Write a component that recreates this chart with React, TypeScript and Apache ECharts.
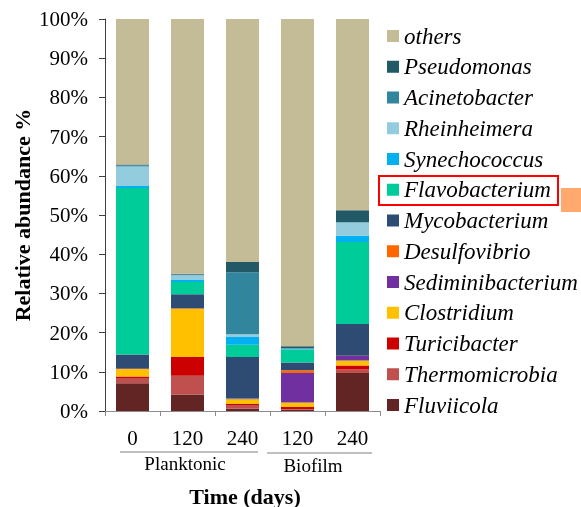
import React, { useEffect, useRef } from "react";
import * as echarts from "echarts";

const categories = ["0", "120", "240", "120", "240"];
const yTicks = ["0%", "10%", "20%", "30%", "40%", "50%", "60%", "70%", "80%", "90%", "100%"];

// stack order bottom -> top
const genera = [
  "Fluviicola",
  "Thermomicrobia",
  "Turicibacter",
  "Clostridium",
  "Sediminibacterium",
  "Desulfovibrio",
  "Mycobacterium",
  "Flavobacterium",
  "Synechococcus",
  "Rheinheimera",
  "Acinetobacter",
  "Pseudomonas",
  "others",
];
const colors = [
  "#632523",
  "#C0504D",
  "#CC0000",
  "#FFC000",
  "#7030A0",
  "#FF6600",
  "#2E4B73",
  "#00CC99",
  "#00B0F0",
  "#93CDDD",
  "#31859C",
  "#215967",
  "#C4BC96",
];

const fluviicola = [7.1, 4.2, 0.6, 0.3, 9.7];
const thermomicrobia = [1.3, 4.8, 0.9, 0.2, 0.9];
const turicibacter = [0.4, 4.8, 0.3, 0.5, 1.0];
const clostridium = [1.9, 12.2, 1.2, 1.2, 1.3];
const sediminibacterium = [0.2, 0.1, 0.1, 7.5, 1.1];
const desulfovibrio = [0.0, 0.1, 0.1, 0.7, 0.1];
const mycobacterium = [3.5, 3.6, 10.6, 2.0, 8.1];
const flavobacterium = [42.5, 3.1, 3.1, 3.3, 20.9];
const synechococcus = [0.5, 0.5, 2.0, 0.1, 1.6];
const rheinheimera = [5.0, 1.2, 0.7, 0.1, 3.4];
const acinetobacter = [0.3, 0.2, 15.8, 0.1, 0.1];
const pseudomonas = [0.2, 0.2, 2.6, 0.5, 3.0];
const others = [37.1, 65.0, 62.0, 83.5, 48.8];

const seriesValues = [
  fluviicola,
  thermomicrobia,
  turicibacter,
  clostridium,
  sediminibacterium,
  desulfovibrio,
  mycobacterium,
  flavobacterium,
  synechococcus,
  rheinheimera,
  acinetobacter,
  pseudomonas,
  others,
];

const SERIF = "Liberation Serif";

export default function App() {
  const ref = useRef<HTMLDivElement>(null);
  useEffect(() => {
    if (!ref.current) return;
    const chart = echarts.init(ref.current, null, { renderer: "svg" });
    chart.setOption({
      animation: false,
      grid: { left: 105, right: 201, top: 19, bottom: 96, containLabel: false },
      legend: {
        orient: "vertical",
        left: 387,
        top: 24.5,
        padding: 0,
        icon: "rect",
        itemWidth: 12,
        itemHeight: 12,
        itemGap: 7.75,
        data: genera.slice().reverse(),
        textStyle: {
          fontFamily: SERIF,
          fontStyle: "italic",
          fontSize: 23,
          lineHeight: 23,
          color: "#000",
        },
      },
      xAxis: {
        type: "category",
        data: categories,
        axisLine: { lineStyle: { color: "#8c8c8c", width: 1 } },
        axisTick: { show: true, length: 5, lineStyle: { color: "#8c8c8c" } },
        axisLabel: { fontFamily: SERIF, fontSize: 21, color: "#000", margin: 16 },
      },
      yAxis: {
        type: "value",
        min: 0,
        max: 100,
        interval: 10,
        splitLine: { show: false },
        axisLine: { show: true, lineStyle: { color: "#404040", width: 1 } },
        axisTick: { show: true, length: 6, lineStyle: { color: "#404040" } },
        axisLabel: {
          fontFamily: SERIF,
          fontSize: 21,
          color: "#000",
          margin: 17,
          formatter: (v: number) => yTicks[Math.round(v / 10)],
        },
      },
      series: genera.map((name, i) => ({
        name,
        type: "bar",
        stack: "total",
        barWidth: 33,
        data: seriesValues[i],
        itemStyle: { color: colors[i] },
      })),
      graphic: [
        {
          type: "text",
          x: 22,
          y: 215,
          rotation: Math.PI / 2,
          style: {
            text: "Relative abundance %",
            fontFamily: SERIF,
            fontWeight: "bold",
            fontSize: 22,
            fill: "#000",
            align: "center",
            verticalAlign: "middle",
          },
        },
        {
          type: "line",
          shape: { x1: 120, y1: 452, x2: 258, y2: 452 },
          style: { stroke: "#808080", lineWidth: 1 },
        },
        {
          type: "line",
          shape: { x1: 267, y1: 453, x2: 372, y2: 453 },
          style: { stroke: "#808080", lineWidth: 1 },
        },
        {
          type: "text",
          x: 185,
          y: 463,
          style: {
            text: "Planktonic",
            fontFamily: SERIF,
            fontSize: 19,
            fill: "#000",
            align: "center",
            verticalAlign: "middle",
          },
        },
        {
          type: "text",
          x: 313,
          y: 465,
          style: {
            text: "Biofilm",
            fontFamily: SERIF,
            fontSize: 19,
            fill: "#000",
            align: "center",
            verticalAlign: "middle",
          },
        },
        {
          type: "text",
          x: 245,
          y: 496,
          style: {
            text: "Time (days)",
            fontFamily: SERIF,
            fontWeight: "bold",
            fontSize: 22,
            fill: "#000",
            align: "center",
            verticalAlign: "middle",
          },
        },
        {
          type: "rect",
          shape: { x: 379, y: 176, width: 179, height: 29 },
          style: { fill: "none", stroke: "#FF0000", lineWidth: 2 },
        },
        {
          type: "rect",
          shape: { x: 561, y: 188, width: 20, height: 24 },
          style: { fill: "#FFA96F" },
        },
      ],
    });
    return () => chart.dispose();
  }, []);
  return (
    <div
      ref={ref}
      style={{ position: "fixed", left: 0, top: 0, width: 581, height: 507 }}
    />
  );
}
